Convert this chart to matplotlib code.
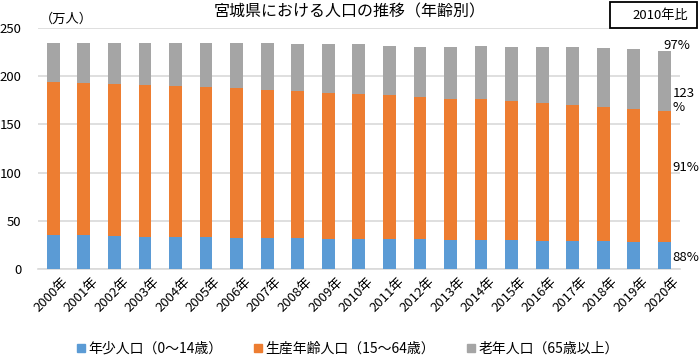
import matplotlib
matplotlib.use("Agg")
import matplotlib.pyplot as plt
import matplotlib.transforms as mtransforms
from matplotlib.patches import Patch, Rectangle

plt.rcParams['font.family'] = ['Noto Sans CJK JP', 'DejaVu Sans']

years = [f"{y}年" for y in range(2000, 2021)]
young = [35.5, 35.2, 34.5, 33.8, 33.1, 33.1, 32.8, 32.1, 32.1, 31.4,
         31.7, 31.1, 31.1, 30.4, 30.4, 30.4, 29.8, 29.4, 29.4, 28.7, 28.0]
working_top = [194.2, 193.2, 191.8, 190.5, 190.1, 188.4, 187.4, 185.6, 184.3, 182.2,
               181.5, 180.1, 178.1, 176.6, 175.9, 174.2, 171.8, 169.8, 167.7, 166.0, 163.9]
total = [234.0, 234.6, 234.6, 234.6, 234.6, 234.6, 234.0, 234.0, 233.2, 233.0,
         233.0, 231.5, 229.8, 229.8, 231.5, 230.4, 230.4, 229.8, 228.8, 228.0, 226.3]
working = [w - y for w, y in zip(working_top, young)]
elderly = [t - w for t, w in zip(total, working_top)]

series_names = ["年少人口（0〜14歳）", "生産年齢人口（15〜64歳）", "老年人口（65歳以上）"]
colors = ["#5B9BD5", "#ED7D31", "#A5A5A5"]
ratio_labels = ["88%", "91%", "123\n%", "97%"]
ratio_x = [20.25, 20.25, 20.28, 19.98]
ratio_y = [12.5, 105, 175, 232]

fig = plt.figure(figsize=(7, 3.58), dpi=100)
ax = fig.add_axes([0.0543, 0.2478, 0.9167, 0.6745])

x = list(range(len(years)))
w = 0.42
ax.bar(x, young, w, color=colors[0], zorder=3)
ax.bar(x, working, w, bottom=young, color=colors[1], zorder=3)
ax.bar(x, elderly, w, bottom=working_top, color=colors[2], zorder=3)

ax.set_xlim(-0.5, 20.5)
ax.set_ylim(0, 250)
ax.set_yticks([0, 50, 100, 150, 200, 250])
ax.yaxis.grid(True, color="#D9D9D9", linewidth=1.2, zorder=0)
ax.set_axisbelow(True)
for s in ["top", "right", "left"]:
    ax.spines[s].set_visible(False)
ax.spines["bottom"].set_color("#D9D9D9")
ax.spines["bottom"].set_linewidth(1.2)
ax.tick_params(axis="y", length=0, labelsize=9.5, pad=12)
ax.tick_params(axis="x", length=0, labelsize=9.5, pad=4)
ax.set_xticks(x)
ax.set_xticklabels(years, rotation=45, ha="right", rotation_mode="anchor")
offset = mtransforms.ScaledTranslation(8/100, 0, fig.dpi_scale_trans)
for lbl in ax.get_xticklabels():
    lbl.set_transform(lbl.get_transform() + offset)

for lab, xv, yv in zip(ratio_labels, ratio_x, ratio_y):
    ax.text(xv, yv, lab, fontsize=9.5, va="center", ha="left", linespacing=1.1,
            clip_on=False)

fig.text(0.5, 0.967, "宮城県における人口の推移（年齢別）", ha="center", va="center", fontsize=11.5)
fig.text(0.057, 0.945, "（万人）", ha="left", va="center", fontsize=9.5)
fig.patches.append(Rectangle((610/700, 1 - 28/358), 87/700, 26/358,
                             transform=fig.transFigure, fc="white", ec="black", lw=1.3,
                             zorder=5))
fig.text(660/700, 1 - 15/358, "2010年比", ha="center", va="center", fontsize=9.5, zorder=6)

handles = [Patch(color=c) for c in colors]
fig.legend(handles, series_names, loc="center", bbox_to_anchor=(0.497, 0.025), ncol=3,
           frameon=False, fontsize=10, handlelength=0.55, handleheight=0.55,
           handletextpad=0.25, columnspacing=2.3)

fig.savefig("out.png", dpi=100)
